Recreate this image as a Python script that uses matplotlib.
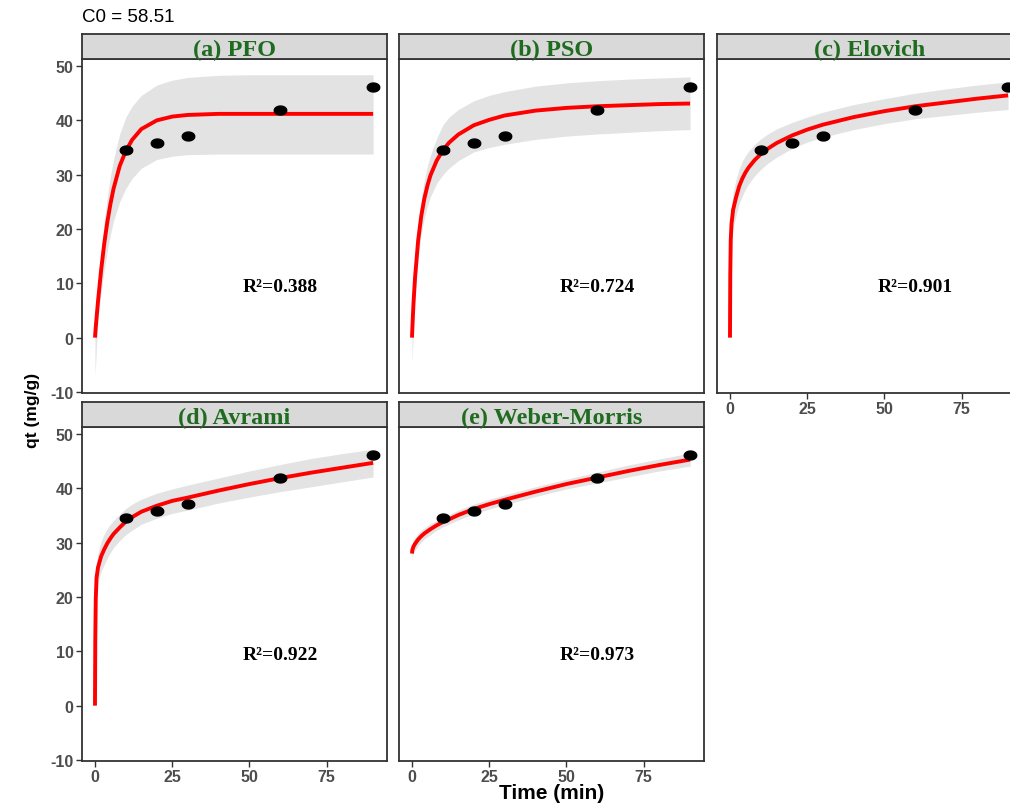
import numpy as np
import matplotlib.pyplot as plt
from matplotlib.path import Path

plt.rcParams["font.family"] = ["Liberation Sans", "DejaVu Sans"]
plt.rcParams["font.weight"] = "bold"
plt.rcParams["axes.unicode_minus"] = False

# Observed data
t_obs = [10, 20, 30, 60, 90]
qt_obs = [34.6, 35.8, 37.2, 41.9, 46.1]

# Fitted curves and confidence bands
t_fit = [0, 0.1, 0.25, 0.5, 1, 2, 3, 4, 5, 6, 8, 10, 12, 15, 20, 25, 30, 40, 50, 60, 70, 80, 90]

pfo_fit = [0, 0.8, 1.9, 3.6, 6.8, 12.5, 17.3, 21.3, 24.6, 27.4, 31.6, 34.4, 36.4, 38.4, 40.0, 40.7, 41.0, 41.2, 41.2, 41.2, 41.2, 41.2, 41.2]
pfo_upper = [0, 1.0, 2.4, 4.7, 9.0, 16.0, 21.5, 26.0, 29.7, 32.8, 37.5, 40.6, 42.6, 44.6, 46.5, 47.4, 47.9, 48.3, 48.4, 48.4, 48.4, 48.4, 48.4]
pfo_lower = [-7.0, -6.0, -4.5, -1.5, 3.5, 8.5, 12.5, 16.0, 19.0, 21.5, 25.0, 27.5, 29.3, 31.2, 32.8, 33.4, 33.7, 33.8, 33.8, 33.8, 33.8, 33.8, 33.8]

pso_fit = [0, 1.4, 3.4, 6.4, 11.1, 17.9, 22.4, 25.6, 28.0, 29.9, 32.6, 34.5, 35.9, 37.4, 39.1, 40.1, 40.9, 41.8, 42.3, 42.6, 42.8, 43.0, 43.1]
pso_upper = [0, 1.8, 4.2, 7.8, 13.0, 20.5, 25.5, 29.0, 31.6, 33.6, 36.7, 39.2, 40.6, 42.0, 43.6, 44.6, 45.3, 46.3, 46.9, 47.3, 47.6, 47.8, 48.0]
pso_lower = [-4.5, -3.5, -1.5, 2.0, 8.0, 15.0, 19.2, 22.0, 24.3, 26.0, 28.4, 30.0, 31.2, 32.6, 34.2, 35.0, 35.6, 36.5, 37.1, 37.5, 37.8, 38.1, 38.3]

elovich_fit = [0, 11.7, 18.0, 21.0, 23.5, 25.9, 27.9, 29.3, 30.4, 31.3, 32.7, 33.8, 34.7, 35.8, 37.2, 38.3, 39.2, 40.6, 41.7, 42.6, 43.3, 44.0, 44.6]
elovich_upper = [0.5, 13.7, 21.0, 24.2, 26.8, 29.2, 31.1, 32.5, 33.5, 34.3, 35.6, 36.6, 37.4, 38.4, 39.6, 40.6, 41.5, 42.9, 44.0, 45.0, 45.8, 46.5, 47.1]
elovich_lower = [-0.5, 9.7, 15.0, 17.8, 20.2, 22.6, 24.7, 26.1, 27.3, 28.3, 29.8, 31.0, 32.0, 33.2, 34.8, 36.0, 36.9, 38.3, 39.4, 40.3, 40.9, 41.5, 42.0]

avrami_fit = [0, 12.0, 19.5, 23.5, 25.5, 27.5, 28.8, 29.9, 30.8, 31.6, 32.8, 33.9, 34.7, 35.7, 36.8, 37.7, 38.3, 39.6, 40.8, 41.9, 42.9, 43.8, 44.7]
avrami_upper = [0.5, 14.0, 21.5, 26.0, 28.2, 30.3, 31.6, 32.6, 33.4, 34.1, 35.2, 36.3, 37.1, 38.0, 39.1, 39.9, 40.6, 41.9, 43.2, 44.4, 45.5, 46.4, 47.2]
avrami_lower = [-0.5, 10.0, 17.5, 21.0, 22.8, 24.7, 26.0, 27.2, 28.2, 29.1, 30.4, 31.5, 32.3, 33.4, 34.5, 35.4, 36.0, 37.3, 38.4, 39.4, 40.3, 41.2, 42.1]

wm_fit = [28.0, 28.6, 28.9, 29.3, 29.8, 30.6, 31.2, 31.7, 32.1, 32.5, 33.2, 33.8, 34.3, 35.1, 36.2, 37.1, 37.9, 39.4, 40.8, 42.0, 43.2, 44.3, 45.3]
wm_upper = [29.3, 29.8, 30.1, 30.5, 31.0, 31.7, 32.3, 32.7, 33.1, 33.5, 34.1, 34.7, 35.2, 36.0, 37.1, 38.0, 38.8, 40.3, 41.7, 43.0, 44.3, 45.4, 46.5]
wm_lower = [26.7, 27.4, 27.7, 28.1, 28.6, 29.5, 30.1, 30.7, 31.1, 31.5, 32.3, 32.9, 33.4, 34.2, 35.3, 36.2, 37.0, 38.5, 39.9, 41.0, 42.1, 43.2, 44.1]

panel_titles = ["(a) PFO", "(b) PSO", "(c) Elovich", "(d) Avrami", "(e) Weber-Morris"]
r2_labels = ["R\u00b2=0.388", "R\u00b2=0.724", "R\u00b2=0.901", "R\u00b2=0.922", "R\u00b2=0.973"]
fits = [pfo_fit, pso_fit, elovich_fit, avrami_fit, wm_fit]
uppers = [pfo_upper, pso_upper, elovich_upper, avrami_upper, wm_upper]
lowers = [pfo_lower, pso_lower, elovich_lower, avrami_lower, wm_lower]

x_ticks = [0, 25, 50, 75]
y_ticks = [-10, 0, 10, 20, 30, 40, 50]

# --- layout in pixels ---
W, H = 1010, 804
fig = plt.figure(figsize=(W / 100, H / 100), dpi=100)


def px_axes(left, top, width, height):
    return fig.add_axes([left / W, 1 - (top + height) / H, width / W, height / H])


col_left = [82, 399, 717]
row_top = [60, 428]
pw, ph, sh = 305, 333.5, 25

# wide ellipse marker (the points look stretched)
theta = np.linspace(0, 2 * np.pi, 41)
ellipse = Path(np.column_stack([1.4 * np.cos(theta), np.sin(theta)]))

for i, title in enumerate(panel_titles):
    row, col = divmod(i, 3)
    left, top = col_left[col], row_top[row]
    ax = px_axes(left, top, pw, ph)

    ax.fill_between(t_fit, lowers[i], uppers[i], color="#E3E3E3", lw=0, zorder=1)
    ax.plot(t_fit, fits[i], color="#FF0000", lw=2.8, zorder=2, solid_capstyle="butt")
    ax.plot(t_obs, qt_obs, ls="none", marker=ellipse, ms=9, color="black", zorder=3)
    ax.text(60, 9.4, r2_labels[i], family=["Liberation Serif"], weight="bold",
            fontsize=14, ha="center", va="center")

    ax.set_xlim(-4.2, 94.5)
    ax.set_ylim(-10.1, 51.3)
    ax.set_xticks(x_ticks)
    ax.set_yticks(y_ticks)
    for s in ax.spines.values():
        s.set_color("#333333")
        s.set_linewidth(1.3)
    ax.tick_params(length=4, width=1, color="#333333", labelcolor="#4D4D4D",
                   labelsize=11.5, pad=2)
    show_x = (row == 1) or (col == 2)
    ax.tick_params(axis="x", bottom=show_x, labelbottom=show_x)
    ax.tick_params(axis="y", left=(col == 0), labelleft=(col == 0))

    # facet strip
    sax = px_axes(left, top - sh, pw, sh)
    sax.set_facecolor("#D9D9D9")
    sax.set_xticks([])
    sax.set_yticks([])
    for s in sax.spines.values():
        s.set_color("#333333")
        s.set_linewidth(1.3)
    sax.text(0.5, 0.4, title, transform=sax.transAxes, ha="center", va="center",
             family=["Liberation Serif"], weight="bold", fontsize=17.5, color="#1F6B1F")

fig.text(82 / W, 1 - 17 / H, "C0 = 58.51", ha="left", va="center",
         fontsize=13.5, weight="normal", color="black")
fig.text(33 / W, 1 - 410 / H, "qt (mg/g)", rotation=90, ha="center", va="center",
         fontsize=12.5, color="black")
fig.text(552 / W, 1 - 794 / H, "Time (min)", ha="center", va="center",
         fontsize=15, color="black")

fig.savefig("out.png", dpi=100)
